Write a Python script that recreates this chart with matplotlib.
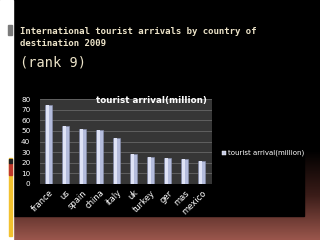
import numpy as np
import matplotlib
matplotlib.use("Agg")
import matplotlib.pyplot as plt
from matplotlib.patches import Rectangle
from matplotlib.colors import LinearSegmentedColormap

countries = ["france", "us", "spain", "china", "italy", "uk", "turkey", "ger", "mas", "mexico"]
arrivals = [74.2, 54.9, 52.2, 50.9, 43.2, 28.0, 25.5, 24.2, 23.6, 21.5]
yticks = [0, 10, 20, 30, 40, 50, 60, 70, 80]
series_name = "tourist arrival(million)"
slide_title = "International tourist arrivals by country of\ndestination 2009"
slide_sub = "(rank 9)"

W, H = 320, 240
fig = plt.figure(figsize=(3.2, 2.4), dpi=100, facecolor="black")

# background with gradient
bg = fig.add_axes([0, 0, 1, 1])
bg.set_xlim(0, W)
bg.set_ylim(H, 0)
bg.axis("off")
grad = np.linspace(0, 1, 100)[:, None]
cmap = LinearSegmentedColormap.from_list("g", ["#000000", "#3a1c18", "#9a564c"])
bg.imshow(grad, cmap=cmap, extent=[12, W, H, 150], aspect="auto", zorder=0)
bg.add_patch(Rectangle((12, 0), W - 12, 150, color="black", zorder=1))
bg.add_patch(Rectangle((12, 0), 292, 216, color="black", zorder=1))
bg.add_patch(Rectangle((0, 0), 12.5, H, color="white", zorder=2))
bg.add_patch(Rectangle((8, 25), 4, 10, color="#7a7a7a", zorder=3))
bg.add_patch(Rectangle((9, 158), 2.5, 78, color="#f2c12e", zorder=3))
bg.add_patch(Rectangle((9, 163), 3, 12, color="#c0392b", zorder=4))
bg.add_patch(Rectangle((9, 159), 3, 4, color="#222222", zorder=4))

fig.text(20 / W, 1 - 37.5 / H, slide_title, color="#ece3c8", family="DejaVu Sans Mono",
         fontsize=6.5, fontweight="bold", ha="left", va="center", linespacing=1.3)
fig.text(20 / W, 1 - 63 / H, slide_sub, color="#ece3c8", family="DejaVu Sans Mono",
         fontsize=9.8, ha="left", va="center")

# chart axes
ax = fig.add_axes([40 / W, 1 - 184 / H, (212 - 40) / W, (184 - 99) / H])
ax.set_facecolor("#363636")
x = np.arange(len(countries))
ax.bar(x, arrivals, width=0.42, color="#b4bcdc", edgecolor="#8890b0", linewidth=0.4, zorder=3)
ax.bar(x - 0.05, arrivals, width=0.17, color="#dfe3f6", linewidth=0, zorder=4)
ax.set_xlim(-0.5, 9.6)
ax.set_ylim(0, 80)
ax.set_yticks(yticks)
ax.set_yticklabels([str(v) for v in yticks], color="white", fontsize=5.2)
ax.grid(axis="y", color="#666666", linewidth=0.6, zorder=1)
ax.set_xticks(x)
ax.set_xticklabels(countries, rotation=45, ha="right", va="top", rotation_mode="anchor",
                   color="white", fontsize=6)
ax.tick_params(axis="both", length=0, pad=3)
ax.tick_params(axis="y", pad=7)
for s in ax.spines.values():
    s.set_visible(False)
ax.axhline(0, color="#888888", linewidth=0.6, zorder=2)

fig.text(207 / W, 1 - 101 / H, series_name, color="white", fontsize=6.3, fontweight="bold",
         ha="right", va="center")

# legend
bg.add_patch(Rectangle((222, 151), 4, 4, facecolor="#c4cae4", edgecolor="#ffffff", linewidth=0.3, zorder=5))
fig.text(228 / W, 1 - 153 / H, series_name, color="white", fontsize=5.0, ha="left", va="center")

fig.savefig("out.png", dpi=100, facecolor="black")
